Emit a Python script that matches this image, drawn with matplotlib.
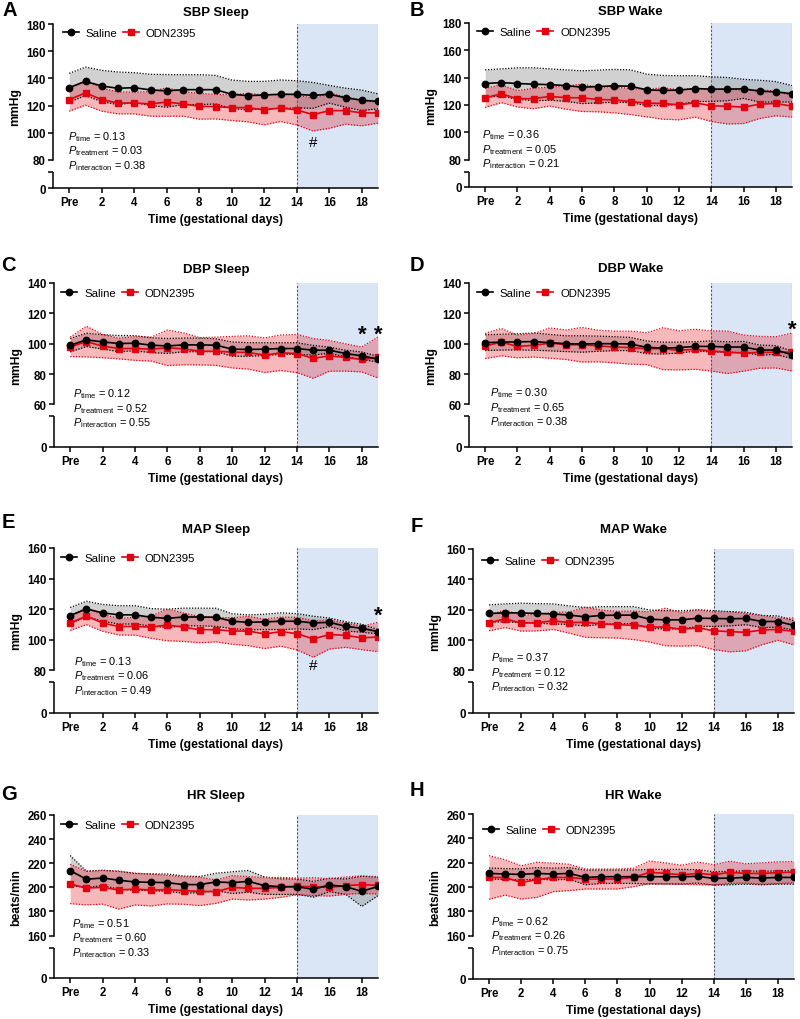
import numpy as np
import matplotlib
matplotlib.use("Agg")
import matplotlib.pyplot as plt
from matplotlib.markers import TICKLEFT

plt.rcParams['font.family'] = ['Liberation Sans', 'DejaVu Sans']
plt.rcParams['mathtext.fontset'] = 'custom'
plt.rcParams['mathtext.rm'] = 'Liberation Sans'
plt.rcParams['mathtext.it'] = 'Liberation Sans:italic'

days = np.arange(20)
day_ticks = [0, 2, 4, 6, 8, 10, 12, 14, 16, 18]
day_labels = ['Pre', '2', '4', '6', '8', '10', '12', '14', '16', '18']

# ---- SBP sleep
sbp_sleep_sal = [133.2, 137.8, 134.4, 132.7, 133.2, 131.5, 130.8, 131.7, 131.7, 131.7,
                 128.3, 127.3, 127.8, 128.3, 128.3, 127.5, 128.3, 125.8, 123.9, 123.1]
sbp_sleep_sal_sd = [10.5, 10.5, 11.5, 12, 11, 11.5, 12, 11, 11, 10.5,
                    10.5, 10.5, 10, 10.5, 10, 9.5, 6.5, 7, 7.5, 5.5]
sbp_sleep_odn = [124.4, 129.3, 124.4, 121.9, 121.9, 121.2, 122.6, 121.2, 119.5, 119.2,
                 118.5, 118.5, 116.8, 118.3, 116.8, 113.3, 116.3, 116.3, 114.6, 114.6]
sbp_sleep_odn_sd = [8.5, 9, 8.5, 8, 8, 9, 10.5, 9, 9.5, 9,
                    9.5, 10.5, 11, 10, 11, 12, 13, 10, 9.5, 7.5]

# ---- SBP wake
sbp_wake_sal = [135.7, 136.4, 135.7, 135.2, 134.9, 134.2, 133.0, 133.5, 134.0, 133.7,
                131.1, 130.6, 130.9, 132.0, 131.6, 131.6, 131.8, 130.1, 129.6, 128.2]
sbp_wake_sal_sd = [10, 10, 11.5, 12, 11.5, 11.5, 12, 12, 12, 12,
                   11.5, 11, 10.5, 9.5, 9, 8.5, 7, 8, 7.5, 6]
sbp_wake_odn = [125.2, 128.2, 124.5, 124.7, 126.2, 125.4, 125.2, 124.0, 123.7, 122.5,
                121.3, 121.1, 120.1, 121.6, 119.4, 119.1, 118.4, 120.6, 121.1, 119.1]
sbp_wake_odn_sd = [7, 6.5, 6, 7.5, 7, 8.5, 10, 9, 9.5, 9.5,
                   10, 11.5, 11, 10.5, 11.5, 13, 12, 10.5, 9, 8]

# ---- DBP sleep
dbp_sleep_sal = [99.0, 102.5, 101.2, 100.1, 100.3, 99.0, 98.5, 99.2, 99.2, 99.0,
                 96.4, 96.2, 96.4, 96.8, 96.8, 95.7, 95.7, 93.5, 92.0, 89.8]
dbp_sleep_sal_sd = [4.4, 4.4, 4.7, 5.3, 5, 4.9, 4.9, 4.5, 4.5, 4.2,
                    4.7, 4.5, 4.2, 3.8, 3.8, 3.2, 2, 2.2, 2.5, 1.9]
dbp_sleep_odn = [97.9, 101.4, 98.4, 96.8, 96.8, 96.4, 97.3, 96.6, 95.0, 95.0,
                 94.4, 94.2, 92.4, 94.0, 93.5, 90.3, 92.0, 90.9, 89.6, 90.9]
dbp_sleep_odn_sd = [6.4, 10.1, 7.7, 6.8, 7.8, 7.9, 11.7, 10.5, 9, 9.3,
                    10.4, 11, 11.4, 11.7, 12.6, 13.1, 10.1, 9, 8.2, 13.5]

# ---- DBP wake
dbp_wake_sal = [100.7, 101.0, 101.2, 101.4, 100.7, 100.0, 99.8, 100.0, 100.0, 99.8,
                97.6, 97.1, 97.4, 98.2, 98.2, 97.8, 97.8, 95.8, 95.8, 92.7]
dbp_wake_sal_sd = [5.2, 5.2, 5.3, 5.7, 5.4, 5.2, 5.4, 5, 4.6, 4.3,
                   4.2, 3.9, 3.6, 3.1, 3.6, 3.4, 3.7, 3.3, 2.9, 2.5]
dbp_wake_odn = [98.5, 101.0, 98.2, 98.9, 100.4, 99.3, 99.3, 98.5, 97.8, 97.4,
                96.7, 96.7, 95.6, 96.3, 95.2, 94.3, 93.8, 94.3, 94.3, 94.5]
dbp_wake_odn_sd = [8.3, 9, 7.5, 7.7, 10, 9.7, 11.4, 10.4, 10.4, 10.9,
                   10.5, 13.8, 12.9, 13.2, 13.2, 14, 11.9, 10.5, 10.3, 12.5]

# ---- MAP sleep
map_sleep_sal = [115.7, 120.1, 117.5, 116.2, 116.2, 114.6, 113.9, 114.8, 114.8, 114.6,
                 112.0, 111.3, 111.6, 112.0, 112.0, 110.9, 111.3, 108.7, 107.4, 105.2]
map_sleep_sal_sd = [5.3, 5, 5.5, 6, 6, 5.7, 6, 5.8, 5.8, 5.9,
                    4.9, 4.9, 5, 5.5, 5, 4.4, 2.8, 3, 2.6, 1.4]
map_sleep_odn = [110.9, 115.3, 110.9, 108.5, 108.7, 108.1, 109.6, 108.1, 106.5, 106.5,
                 105.6, 105.6, 103.7, 105.2, 103.9, 100.4, 103.3, 102.8, 101.1, 101.7]
map_sleep_odn_sd = [4.9, 5.5, 5.5, 5.5, 5.8, 7.3, 10.4, 9.3, 8.6, 8,
                    8.7, 9.6, 9.6, 9.5, 10.7, 12, 9.5, 7.9, 7.7, 9.6]

# ---- MAP wake
map_wake_sal = [117.5, 117.9, 117.9, 117.5, 117.2, 116.4, 115.3, 116.2, 116.4, 116.4,
                113.7, 113.3, 113.3, 114.4, 114.2, 114.0, 114.2, 112.2, 112.2, 109.6]
map_wake_sal_sd = [5.7, 5.9, 6.4, 6.5, 6.6, 6.1, 6.1, 5.8, 5.6, 5.6,
                   6.1, 6, 6, 5.5, 5.2, 4.7, 4.1, 4, 3.7, 3.1]
map_wake_odn = [111.3, 114.0, 111.1, 111.5, 112.6, 111.5, 111.7, 110.6, 110.1, 109.7,
                108.6, 108.6, 107.0, 108.1, 106.1, 105.5, 105.1, 106.6, 107.0, 105.7]
map_wake_odn_sd = [5.2, 5.8, 5.2, 5.5, 5.6, 7, 9.9, 9.1, 8.8, 9.4,
                   9.9, 12.4, 11, 11.8, 12.4, 13.3, 12.2, 9.7, 7.2, 8.9]

# ---- HR sleep
hr_sleep_sal = [213.9, 206.7, 207.8, 205.9, 204.5, 204.2, 203.9, 202.3, 202.3, 204.5,
                203.9, 205.0, 201.4, 200.6, 200.6, 198.4, 202.0, 200.6, 196.7, 200.8]
hr_sleep_sal_sd = [12.5, 6.7, 6.4, 7.3, 7, 6.9, 7.2, 7.1, 6.7, 7.2,
                   9, 9, 7.2, 6.5, 6.3, 6.5, 5.6, 6.3, 12.5, 7.6]
hr_sleep_odn = [202.8, 199.4, 200.0, 197.8, 198.6, 197.8, 198.1, 197.3, 196.7, 196.4,
                200.0, 199.2, 199.2, 200.0, 200.8, 200.6, 200.0, 201.4, 202.3, 201.7]
hr_sleep_odn_sd = [16.3, 13.9, 13.9, 15.8, 13.2, 13.2, 11.8, 11.3, 11.8, 9.7,
                   9.7, 9.7, 8.9, 8.3, 6.9, 7.4, 7.2, 7.2, 7.2, 7.2]

# ---- HR wake
hr_wake_sal = [211.2, 210.7, 210.4, 211.2, 210.7, 211.2, 207.9, 208.5, 208.5, 208.5,
               208.5, 208.5, 208.5, 208.8, 207.1, 207.4, 207.9, 207.4, 207.9, 207.9]
hr_wake_sal_sd = [4.5, 4.5, 4.5, 4.8, 4.8, 4.8, 6, 5.5, 5.5, 5.5,
                  6, 6, 6, 5.5, 5.5, 5.5, 5.5, 5.5, 5.5, 5.5]
hr_wake_odn = [207.9, 207.9, 203.8, 206.0, 207.9, 207.9, 206.6, 206.6, 206.6, 207.9,
               212.1, 211.2, 210.1, 211.2, 210.1, 212.1, 211.2, 211.2, 211.8, 212.3]
hr_wake_odn_sd = [17.9, 14.5, 13.7, 14.4, 11.7, 10.8, 8.2, 8.2, 8.2, 7.6,
                  9.3, 8.6, 7.8, 9.3, 8.3, 9.1, 7.9, 8.7, 8.9, 8.7]

letters = ['A', 'B', 'C', 'D', 'E', 'F', 'G', 'H']
titles = ['SBP Sleep', 'SBP Wake', 'DBP Sleep', 'DBP Wake',
          'MAP Sleep', 'MAP Wake', 'HR Sleep', 'HR Wake']
ylabels = ['mmHg'] * 6 + ['beats/min'] * 2
yticks = [[0, 80, 100, 120, 140, 160, 180]] * 2 + [[0, 60, 80, 100, 120, 140]] * 2 + \
         [[0, 80, 100, 120, 140, 160]] * 2 + [[0, 160, 180, 200, 220, 240, 260]] * 2
p_time = ['0.13', '0.36', '0.12', '0.30', '0.13', '0.37', '0.51', '0.62']
p_treat = ['0.03', '0.05', '0.52', '0.65', '0.06', '0.12', '0.60', '0.26']
p_inter = ['0.38', '0.21', '0.55', '0.38', '0.49', '0.32', '0.33', '0.75']
saline = [sbp_sleep_sal, sbp_wake_sal, dbp_sleep_sal, dbp_wake_sal,
          map_sleep_sal, map_wake_sal, hr_sleep_sal, hr_wake_sal]
saline_sd = [sbp_sleep_sal_sd, sbp_wake_sal_sd, dbp_sleep_sal_sd, dbp_wake_sal_sd,
             map_sleep_sal_sd, map_wake_sal_sd, hr_sleep_sal_sd, hr_wake_sal_sd]
odn = [sbp_sleep_odn, sbp_wake_odn, dbp_sleep_odn, dbp_wake_odn,
       map_sleep_odn, map_wake_odn, hr_sleep_odn, hr_wake_odn]
odn_sd = [sbp_sleep_odn_sd, sbp_wake_odn_sd, dbp_sleep_odn_sd, dbp_wake_odn_sd,
          map_sleep_odn_sd, map_wake_odn_sd, hr_sleep_odn_sd, hr_wake_odn_sd]
# significance marks: (panel, day, value, symbol)
marks = [(0, 15, 93.5, '#'), (2, 18, 106.5, '*'), (2, 19, 106.5, '*'),
         (3, 19, 109.8, '*'), (4, 15, 83.3, '#'), (4, 19, 116.0, '*')]

# layout (pixels): left, right, top, bottom of each axes
W, H = 800, 1020
rects = [(53, 378, 25, 189), (469, 792, 24, 188),
         (54, 378, 284, 448), (469, 792, 284, 448),
         (54, 378, 549, 714), (473, 794, 550, 714),
         (54, 378, 816, 979), (473, 794, 815, 980)]
zero_frac = [0.171, 0.167, 0.26, 0.26, 0.26, 0.26, 0.26, 0.262]
title_off = [12, 12, 14, 15, 19, 20, 20, 19]
letter_pos = [(10, 10.5), (417, 10.5), (8.5, 265.5), (417, 265.5),
              (8.5, 523), (417, 526), (8.5, 795), (417, 791)]
leg_pos = [(0.03, 0.945), (0.025, 0.943), (0.023, 0.939), (0.025, 0.939),
           (0.023, 0.939), (0.028, 0.926), (0.023, 0.939), (0.031, 0.903)]
p_x = [0.046, 0.041, 0.059, 0.066, 0.061, 0.056, 0.057, 0.056]
p_y = [0.299, 0.302, 0.309, 0.315, 0.297, 0.32, 0.32, 0.333]

RED = '#e3000f'
BLUE = '#dae6f6'
LW = 1.1


def broken_scale(lo, g):
    def fwd(y):
        y = np.asarray(y, dtype=float)
        return np.where(y >= lo, y, lo - g + y * g / lo)

    def inv(z):
        z = np.asarray(z, dtype=float)
        return np.where(z >= lo, z, (z - lo + g) * lo / g)
    return fwd, inv


fig = plt.figure(figsize=(W / 100, H / 100), dpi=100)

for i in range(8):
    l, r, t, b = rects[i]
    ax = fig.add_axes([l / W, 1 - b / H, (r - l) / W, (b - t) / H])
    hpx = b - t
    lo, hi = yticks[i][1], yticks[i][-1]
    g = zero_frac[i] / (1 - zero_frac[i]) * (hi - lo)
    ax.set_yscale('function', functions=broken_scale(lo, g))
    ax.set_ylim(0, hi)
    ax.set_xlim(-1.0, 19)

    ax.axvspan(14, 19, color=BLUE, zorder=0, lw=0)
    for xv in (14, 19):
        ax.axvline(xv, color='#555555', lw=0.8, ls=(0, (2, 1.5)), zorder=1)

    sal = np.array(saline[i])
    ssd = np.array(saline_sd[i])
    od = np.array(odn[i])
    osd = np.array(odn_sd[i])
    ax.fill_between(days, sal - ssd, sal + ssd, color='#808080', alpha=0.36, lw=0, zorder=2)
    ax.fill_between(days, od - osd, od + osd, color=RED, alpha=0.28, lw=0, zorder=2)
    for yy in (sal - ssd, sal + ssd):
        ax.plot(days, yy, color='black', lw=0.9, ls=(0, (1, 1.3)), zorder=3)
    for yy in (od - osd, od + osd):
        ax.plot(days, yy, color=RED, lw=0.9, ls=(0, (1, 1.3)), zorder=3)
    ax.plot(days, od, '-s', color=RED, lw=1.2, ms=4.4, zorder=4, label='ODN2395')
    ax.plot(days, sal, '-o', color='black', lw=1.2, ms=4.6, zorder=5, label='Saline')

    h, lab = ax.get_legend_handles_labels()
    ax.legend(h[::-1], lab[::-1], loc='center left', bbox_to_anchor=leg_pos[i],
              ncol=2, frameon=False, fontsize=8.2, handlelength=1.4,
              handletextpad=0.6, columnspacing=0.5, borderpad=0, borderaxespad=0)

    for sp in ('top', 'right'):
        ax.spines[sp].set_visible(False)
    ax.spines['left'].set_linewidth(LW)
    ax.spines['bottom'].set_linewidth(LW)
    ax.spines['left'].set_bounds(lo, hi)
    cap = zero_frac[i] - 12 / hpx
    ax.plot([0, 0], [0, cap], transform=ax.transAxes, color='black', lw=LW,
            clip_on=False, solid_capstyle='butt', zorder=6)
    ax.plot([0], [cap], transform=ax.transAxes, marker=TICKLEFT, ms=3.6,
            mew=LW, color='black', clip_on=False, zorder=6)

    ax.set_xticks(day_ticks, labels=day_labels, fontweight='bold', fontsize=8.3)
    ax.set_yticks(yticks[i], labels=[str(v) for v in yticks[i]],
                  fontweight='bold', fontsize=8.3)
    ax.yaxis.set_minor_locator(plt.NullLocator())
    ax.tick_params(width=LW, length=3.6)
    ax.tick_params(axis='y', pad=1.5)
    ax.tick_params(axis='x', pad=2.5)

    ax.set_xlabel('Time (gestational days)', fontweight='bold', fontsize=8.7, va='center')
    ax.xaxis.set_label_coords(0.5, -31 / hpx)
    ax.set_ylabel(ylabels[i], fontweight='bold', fontsize=8.7, va='center')
    ax.yaxis.set_label_coords(-38 / (r - l), 0.5)

    ax.text(0.5, 1 + title_off[i] / hpx, titles[i], transform=ax.transAxes,
            ha='center', va='center', fontweight='bold', fontsize=9.5)
    lx, ly = letter_pos[i]
    fig.text(lx / W, 1 - ly / H, letters[i], ha='center', va='center',
             fontweight='bold', fontsize=14.5)

    ptxt = [r'$P_{\mathrm{time}}$ = ' + p_time[i],
            r'$P_{\mathrm{treatment}}$ = ' + p_treat[i],
            r'$P_{\mathrm{interaction}}$ = ' + p_inter[i]]
    for k, s in enumerate(ptxt):
        ax.text(p_x[i], p_y[i] - k * 14.5 / hpx, s, transform=ax.transAxes,
                ha='left', va='baseline', fontsize=7.9)

    for pi, xd, yd, sym in marks:
        if pi == i:
            if sym == '*':
                ax.text(xd, yd, sym, ha='center', va='center', fontsize=16,
                        fontweight='bold', zorder=7)
            else:
                ax.text(xd, yd, sym, ha='center', va='center', fontsize=11, zorder=7)

fig.savefig('out.png', dpi=100)
